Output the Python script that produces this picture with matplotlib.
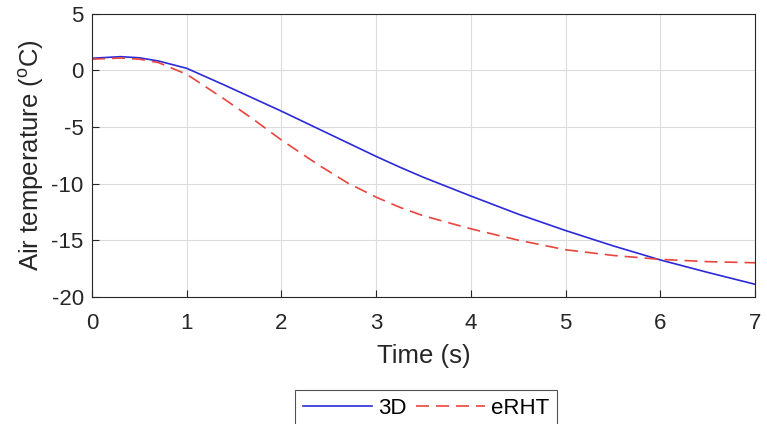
import matplotlib
matplotlib.use("Agg")
import matplotlib.pyplot as plt

plt.rcParams['font.family'] = ['Liberation Sans', 'DejaVu Sans']
plt.rcParams['mathtext.fontset'] = 'custom'
plt.rcParams['mathtext.rm'] = 'Liberation Sans'
plt.rcParams['axes.unicode_minus'] = False

# 시간 (s)
t = [0, 0.3, 0.5, 0.7, 1.0, 1.4, 1.7, 2.0, 2.4, 2.7, 3.0, 3.25, 3.5, 4.0, 4.5, 5.0, 5.5, 6.0, 6.5, 7.0]
# 3D 모델 공기 온도
temp_3d = [1.08, 1.22, 1.12, 0.84, 0.19, -1.3, -2.45, -3.6, -5.2, -6.4, -7.6, -8.55, -9.45, -11.1,
           -12.7, -14.15, -15.5, -16.75, -17.85, -18.9]
# eRHT 모델 공기 온도
temp_erht = [1.0, 1.1, 1.0, 0.7, -0.34, -2.55, -4.3, -6.15, -8.4, -9.95, -11.2, -12.1, -12.85, -14.0,
             -15.0, -15.85, -16.35, -16.7, -16.9, -17.0]

fig = plt.figure(figsize=(7.67, 4.24), dpi=100)
ax = fig.add_axes([0.12, 0.3002, 0.8644, 0.667])

ax.plot(t, temp_3d, color="#2a2ad8", linewidth=1.2, label="3D")
ax.plot(t, temp_erht, color="#e8453e", linewidth=1.2, linestyle=(0, (7.8, 4.2)), label="eRHT")

ax.set_xlim(0, 7)
ax.set_ylim(-20, 5)
ax.set_xticks(range(0, 8))
ax.set_yticks([-20, -15, -10, -5, 0, 5])
ax.grid(True, color="#dcdcdc", linewidth=0.8)
ax.set_axisbelow(True)
ax.tick_params(direction="in", labelsize=16, colors="#262626", length=5, pad=6)
ax.tick_params(axis="x", pad=12)
for s in ax.spines.values():
    s.set_color("#262626")
    s.set_linewidth(0.8)

ax.set_xlabel("Time (s)", fontsize=18.5, color="#262626", labelpad=7)
ax.set_ylabel("Air temperature ($^{\\rm o}$C)", fontsize=18.5, color="#262626", labelpad=4)

leg = fig.legend(loc="upper left", bbox_to_anchor=(0.3846, 0.0802), ncol=2, fontsize=16,
                 frameon=True, fancybox=False, edgecolor="#262626", handlelength=3.1,
                 columnspacing=0.4, handletextpad=0.3, borderaxespad=0, borderpad=0.35)
leg.get_frame().set_linewidth(0.8)

fig.savefig("out.png", dpi=100)
